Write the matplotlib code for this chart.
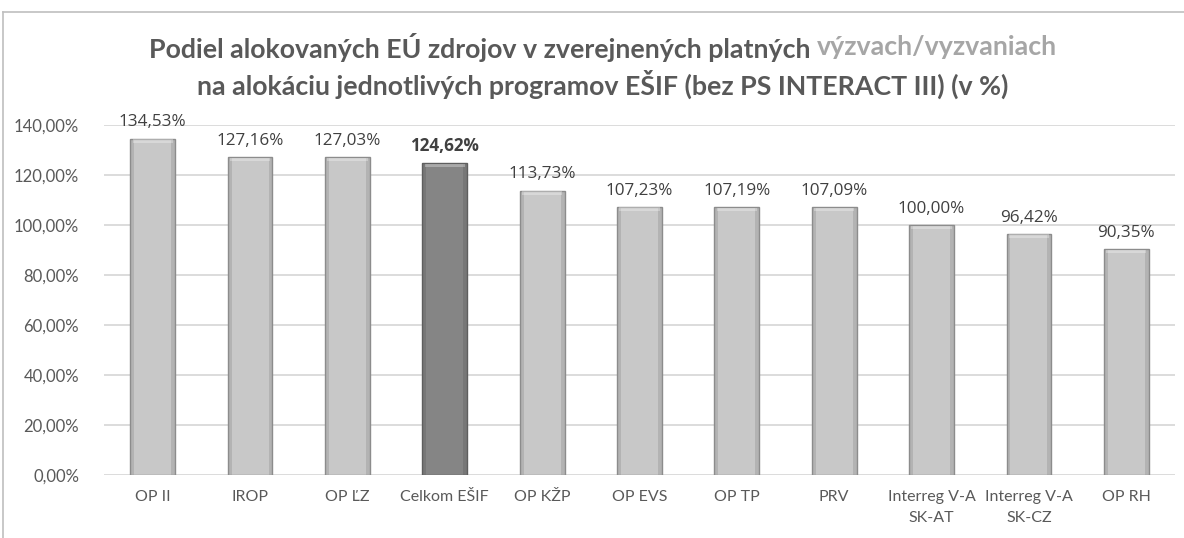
import matplotlib
matplotlib.use("Agg")
import matplotlib.pyplot as plt
from matplotlib.lines import Line2D

categories = ["OP II", "IROP", "OP ĽZ", "Celkom EŠIF", "OP KŽP", "OP EVS", "OP TP",
              "PRV", "Interreg V-A\nSK-AT", "Interreg V-A\nSK-CZ", "OP RH"]
values = [134.53, 127.16, 127.03, 124.62, 113.73, 107.23, 107.19, 107.09, 100.00, 96.42, 90.35]
highlight = "Celkom EŠIF"
yticks = [0, 20, 40, 60, 80, 100, 120, 140]

title_l1_a = "Podiel alokovaných EÚ zdrojov v zverejnených platných "
title_l1_b = "výzvach/vyzvaniach"
title_l2 = "na alokáciu jednotlivých programov EŠIF (bez PS INTERACT III) (v %)"

FONT = ["Lato", "DejaVu Sans"]
LABEL_FONT = ["Open Sans", "DejaVu Sans"]
plt.rcParams["font.family"] = FONT

W, H = 1184, 538
fig = plt.figure(figsize=(W / 100, H / 100), dpi=100)
fig.patch.set_facecolor("white")

# outer frame (left and top visible)
fig.add_artist(Line2D([3 / W, 3 / W], [0, 1 - 12 / H], transform=fig.transFigure,
                      color="#BFBFBF", lw=1.2))
fig.add_artist(Line2D([3 / W, 1], [1 - 12 / H, 1 - 12 / H], transform=fig.transFigure,
                      color="#BFBFBF", lw=1.2))

ax = fig.add_axes([104 / W, 1 - 475 / H, (1175 - 104) / W, (475 - 125) / H])
ax.set_xlim(-0.5, len(categories) - 0.5)
ax.set_ylim(0, 140)
for s in ax.spines.values():
    s.set_visible(False)
ax.set_yticks(yticks)
ax.set_yticklabels([f"{v:.2f}".replace(".", ",") + "%" for v in yticks])
ax.yaxis.grid(True, color="#D9D9D9", lw=1.3)
ax.set_axisbelow(True)
ax.tick_params(axis="both", length=0, labelcolor="#595959")
ax.tick_params(axis="y", pad=18, labelsize=12)
ax.tick_params(axis="x", pad=11, labelsize=11.5)
ax.set_xticks(range(len(categories)))
ax.set_xticklabels(categories, linespacing=1.6)

bw = 0.46
for i, (c, v) in enumerate(zip(categories, values)):
    hi = c == highlight
    face = "#858585" if hi else "#C8C8C8"
    edge = "#5E5E5E" if hi else "#8C8C8C"
    ax.bar(i, v, width=bw, color=face, edgecolor=edge, linewidth=1.0, zorder=3)
    # bevel: side shading strips
    ax.bar(i - bw / 2 + 0.02, v, width=0.04, color=edge, alpha=0.35, linewidth=0, zorder=4)
    ax.bar(i + bw / 2 - 0.02, v, width=0.04, color=edge, alpha=0.35, linewidth=0, zorder=4)
    # top highlight (chamfer)
    ax.bar(i, 1.4, bottom=v - 1.6, width=bw * 0.9, color="white", alpha=0.3, linewidth=0, zorder=4)
    lbl = f"{v:.2f}".replace(".", ",") + "%"
    ax.annotate(lbl, (i, v), xytext=(0, 6), textcoords="offset points", ha="center",
                va="bottom", fontsize=12.3, color="#404040", family=LABEL_FONT,
                fontweight="bold" if hi else "normal", zorder=5)

# title in two colours
fs = 19.3
t1 = fig.text(0, 1 - 47 / H, title_l1_a, fontsize=fs, fontweight="bold", color="#595959",
              va="center", ha="left")
t2 = fig.text(0, 1 - 47 / H, title_l1_b, fontsize=fs, fontweight="bold", color="#A6A6A6",
              va="center", ha="left")
fig.canvas.draw()
r = fig.canvas.get_renderer()
w1 = t1.get_window_extent(r).width
w2 = t2.get_window_extent(r).width
cx = 603
start = cx - (w1 + w2) / 2
t1.set_x(start / W)
t2.set_x((start + w1) / W)
fig.text(cx / W, 1 - 84 / H, title_l2, fontsize=fs, fontweight="bold", color="#595959",
         va="center", ha="center")

fig.savefig("out.png", dpi=100, facecolor="white")
